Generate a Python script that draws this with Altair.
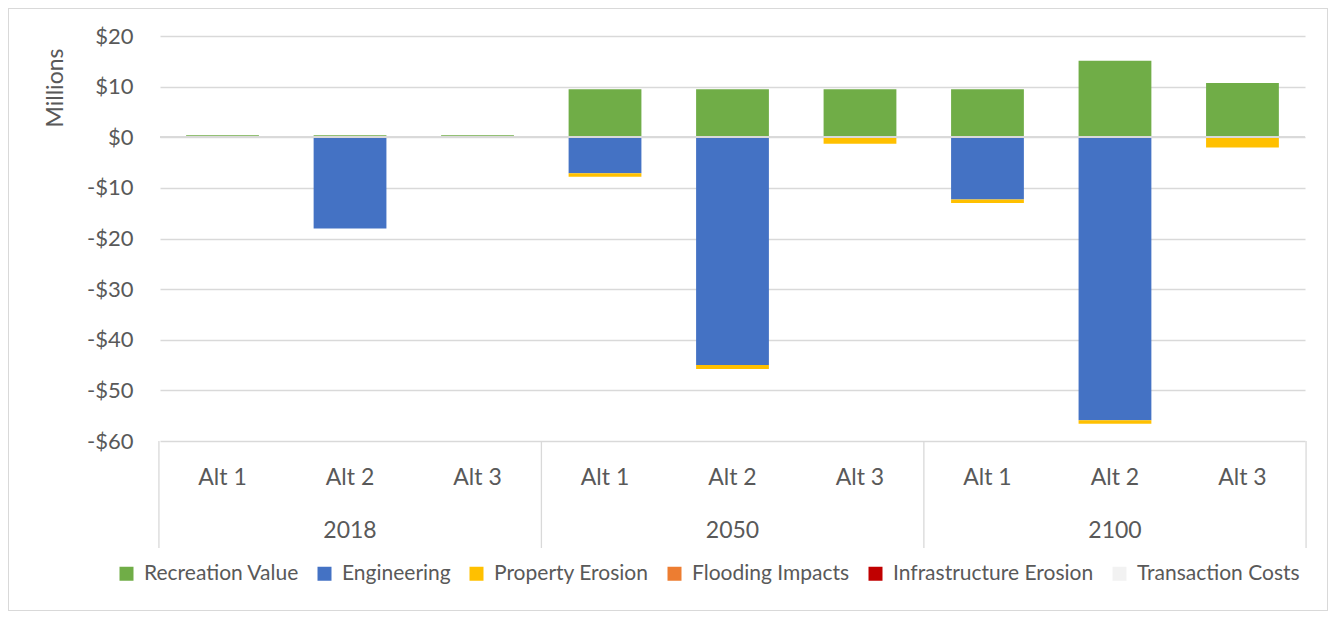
import altair as alt
import pandas as pd

# ---------------- data (millions of dollars) ----------------
years = ["2018", "2018", "2018", "2050", "2050", "2050", "2100", "2100", "2100"]
alts = ["Alt 1", "Alt 2", "Alt 3", "Alt 1", "Alt 2", "Alt 3", "Alt 1", "Alt 2", "Alt 3"]

series_names = ["Recreation Value", "Engineering", "Property Erosion",
                "Flooding Impacts", "Infrastructure Erosion", "Transaction Costs"]
series_colors = ["#70AD47", "#4472C4", "#FFC000", "#ED7D31", "#C00000", "#F2F2F2"]

recreation = [0.4, 0.4, 0.4, 9.5, 9.5, 9.5, 9.5, 15.1, 10.7]
engineering = [0.0, -18.0, 0.0, -7.1, -45.0, 0.0, -12.3, -55.9, 0.0]
property_erosion = [0.0, 0.0, 0.0, -0.7, -0.8, -1.3, -0.7, -0.7, -2.0]
flooding = [0.0] * 9
infrastructure = [0.0] * 9
transaction = [0.0] * 9

y_ticks = [-60, -50, -40, -30, -20, -10, 0, 10, 20]

FONT = "Lato"
TXT = "#595959"
GRID = "#D9D9D9"

keys = [f"{y} {a}" for y, a in zip(years, alts)]
all_series = [recreation, engineering, property_erosion, flooding, infrastructure, transaction]

rows = []
for si, (name, vals) in enumerate(zip(series_names, all_series)):
    for k, y, a, v in zip(keys, years, alts, vals):
        rows.append(dict(key=k, year=y, alt=a, series=name, order=si, value=v))
df = pd.DataFrame(rows)
cat = pd.DataFrame(dict(key=keys, year=years, alt=alts))

xscale = alt.Scale(domain=keys, paddingInner=0.429, paddingOuter=0.205)
yscale = alt.Scale(domain=[-60, 20], nice=False, zero=False)
X = alt.X("key:N", sort=keys, scale=xscale, axis=None)

base = alt.Chart(df)

border = alt.Chart(cat).mark_rect(fillOpacity=0, stroke=GRID, strokeWidth=1).encode(
    x=alt.value(-151.5), x2=alt.value(1167.5), y=alt.value(-27.5), y2=alt.value(574.5)
)

bars = base.mark_bar().encode(
    x=X,
    y=alt.Y("value:Q", stack="zero", scale=yscale,
            axis=alt.Axis(values=y_ticks, grid=True, gridColor=GRID, gridWidth=1.3,
                          domain=False, ticks=False, labelFont=FONT, labelFontSize=22,
                          labelColor=TXT, labelPadding=27, title=None,
                          labelExpr="datum.value < 0 ? '-$' + abs(datum.value) : '$' + datum.value")),
    color=alt.Color("series:N", scale=alt.Scale(domain=series_names, range=series_colors),
                    legend=alt.Legend(orient="none", legendX=-44, legendY=527,
                                      direction="horizontal", columns=6, title=None,
                                      symbolType="square", symbolSize=196, symbolStrokeWidth=0,
                                      labelFont=FONT, labelFontSize=21, labelColor=TXT,
                                      labelLimit=400, columnPadding=15, labelOffset=7)),
    order=alt.Order("order:Q", sort="ascending"),
)

zero = alt.Chart(cat).mark_rule(color=GRID, strokeWidth=1.3).encode(
    y=alt.datum(0, scale=yscale)
)

sep_left = alt.Chart(cat[cat["alt"] == "Alt 1"]).mark_rule(color=GRID, strokeWidth=1.3, xOffset=-63.6).encode(
    x=X, y=alt.value(405), y2=alt.value(512)
)
sep_right = alt.Chart(cat.iloc[[8]]).mark_rule(color=GRID, strokeWidth=1.3, xOffset=63.6).encode(
    x=X, y=alt.value(405), y2=alt.value(512)
)

alt_text = alt.Chart(cat).mark_text(font=FONT, fontSize=23, color=TXT, baseline="middle").encode(
    x=X, y=alt.value(442), text="alt:N"
)
year_text = alt.Chart(cat[cat["alt"] == "Alt 2"]).mark_text(font=FONT, fontSize=23, color=TXT, baseline="middle").encode(
    x=X, y=alt.value(495), text="year:N"
)
millions = alt.Chart(cat.iloc[[0]]).mark_text(font=FONT, fontSize=23, color=TXT, angle=270,
                                             baseline="middle", align="center").encode(
    x=alt.value(-104), y=alt.value(52), text=alt.value("Millions")
)

chart = alt.layer(border, bars, zero, sep_left, sep_right, alt_text, year_text, millions).properties(
    width=1145, height=405,
    padding={"left": 152, "top": 28, "right": 23, "bottom": 170},
    autosize=alt.AutoSizeParams(type="none"),
    background="white",
).configure_view(strokeWidth=0)

chart.save("out.html", embed_options={"renderer": "svg", "actions": False})
